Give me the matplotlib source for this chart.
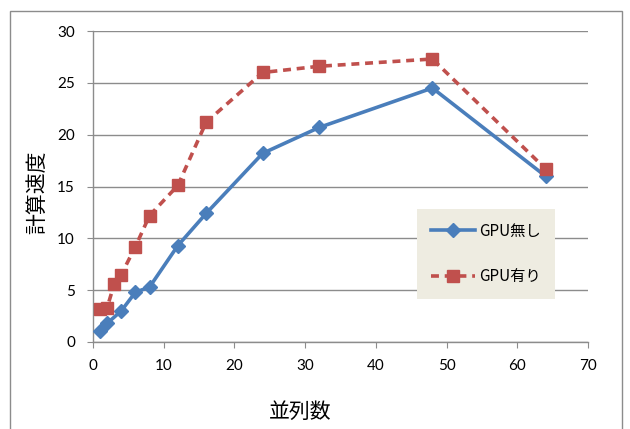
import matplotlib
matplotlib.use('Agg')
import matplotlib.pyplot as plt
from matplotlib.patches import Rectangle

plt.rcParams['font.family'] = ['Noto Sans CJK JP', 'DejaVu Sans']

# 並列数ごとの計算速度
threads_cpu = [1, 2, 4, 6, 8, 12, 16, 24, 32, 48, 64]
speed_cpu = [1.05, 1.8, 3.0, 4.8, 5.3, 9.3, 12.4, 18.2, 20.7, 24.5, 16.0]

threads_gpu = [1, 2, 3, 4, 6, 8, 12, 16, 24, 32, 48, 64]
speed_gpu = [3.2, 3.3, 5.6, 6.5, 9.2, 12.2, 15.1, 21.2, 26.0, 26.6, 27.3, 16.7]

label_cpu = 'GPU無し'
label_gpu = 'GPU有り'

fig = plt.figure(figsize=(6.3, 4.29), dpi=100)
ax = fig.add_axes([0.1476, 0.2028, 0.7857, 0.7249])

# 外枠
fig.patches.append(Rectangle((10 / 630, -0.05), 612 / 630, 1.05 - 11 / 429,
                             transform=fig.transFigure, fill=False,
                             edgecolor='#8c8c8c', linewidth=1.0))

ax.plot(threads_cpu, speed_cpu, color='#4a7ebb', linewidth=2.6,
        marker='D', markersize=7, label=label_cpu, zorder=3)
ax.plot(threads_gpu, speed_gpu, color='#c0504d', linewidth=2.6,
        linestyle=(0, (2.2, 1.6)), marker='s', markersize=8.5,
        label=label_gpu, zorder=4)

ax.set_xlim(0, 70)
ax.set_ylim(0, 30)
ax.set_xticks(range(0, 71, 10))
ax.set_yticks(range(0, 31, 5))
ax.yaxis.grid(True, color='#8c8c8c', linewidth=1.0)
ax.set_axisbelow(True)

for side in ['top', 'right']:
    ax.spines[side].set_visible(False)
for side in ['left', 'bottom']:
    ax.spines[side].set_color('#8c8c8c')
    ax.spines[side].set_linewidth(1.0)

ax.tick_params(axis='both', colors='#8c8c8c', labelcolor='black',
               labelsize=11, length=4, direction='out')
ax.tick_params(axis='x', pad=8)
ax.tick_params(axis='y', pad=9)
for lbl in ax.get_xticklabels() + ax.get_yticklabels():
    lbl.set_fontfamily(['Lato', 'DejaVu Sans'])

ax.set_xlabel('並列数', fontsize=15)
ax.set_ylabel('計算速度', fontsize=15)
ax.xaxis.set_label_coords(0.418, -0.19)
ax.yaxis.set_label_coords(-0.09, 0.48)

leg = ax.legend(loc='upper left', bbox_to_anchor=(0.6545, 0.428),
                borderaxespad=0, frameon=True, facecolor='#eeece1',
                edgecolor='none', framealpha=1, fancybox=False, fontsize=11,
                handlelength=2.9, labelspacing=1.85, borderpad=0.9,
                handletextpad=0.3)

fig.savefig('out.png', dpi=100)
